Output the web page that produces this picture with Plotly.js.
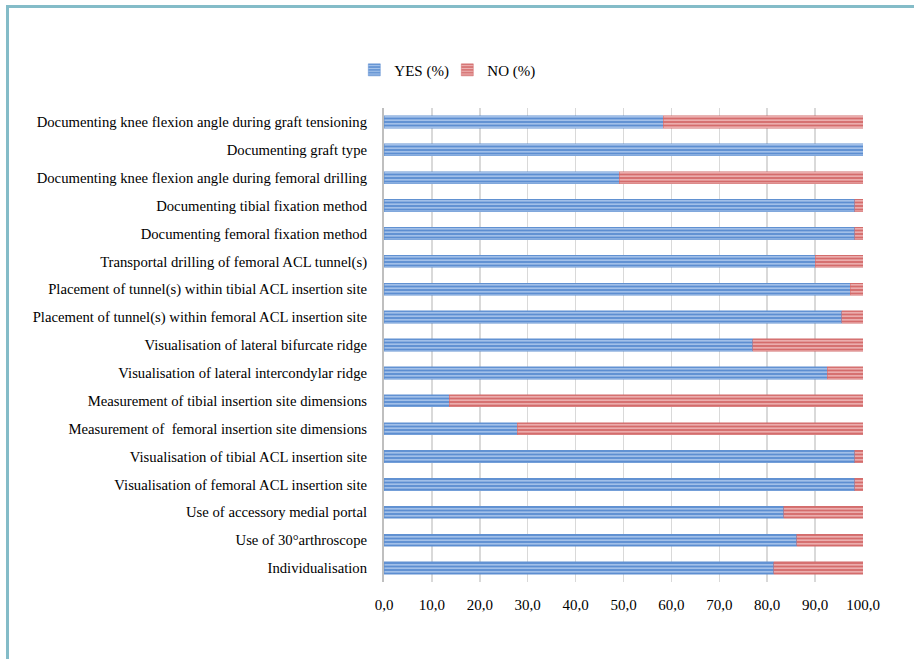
<!DOCTYPE html>
<html><head><meta charset="utf-8">
<script src="https://cdn.plot.ly/plotly-3.0.1.min.js"></script>
<style>
html,body{margin:0;padding:0;background:#fff;}
#chart{width:914px;height:659px;}
#frame{position:absolute;left:6px;top:5px;width:910px;height:660px;border-left:3px solid #84bcc8;border-top:3px solid #84bcc8;pointer-events:none;}
</style></head>
<body>
<div id="chart"></div>
<div id="frame"></div>
<script>
const categories = [
  "Documenting knee flexion angle during graft tensioning",
  "Documenting graft type",
  "Documenting knee flexion angle during femoral drilling",
  "Documenting tibial fixation method",
  "Documenting femoral fixation method",
  "Transportal drilling of femoral ACL tunnel(s)",
  "Placement of tunnel(s) within tibial ACL insertion site",
  "Placement of tunnel(s) within femoral ACL insertion site",
  "Visualisation of lateral bifurcate ridge",
  "Visualisation of lateral intercondylar ridge",
  "Measurement of tibial insertion site dimensions",
  "Measurement of  femoral insertion site dimensions",
  "Visualisation of tibial ACL insertion site",
  "Visualisation of femoral ACL insertion site",
  "Use of accessory medial portal",
  "Use of 30°arthroscope",
  "Individualisation"
];
const yesPct = [58.3, 100, 49.1, 98.3, 98.3, 90.0, 97.3, 95.6, 77.0, 92.5, 13.6, 27.8, 98.3, 98.3, 83.5, 86.2, 81.4];
const noPct  = [41.7, 0, 50.9, 1.7, 1.7, 10.0, 2.7, 4.4, 23.0, 7.5, 86.4, 72.2, 1.7, 1.7, 16.5, 13.8, 18.6];
const xTickVals = [0, 10, 20, 30, 40, 50, 60, 70, 80, 90, 100];
const xTickText = ["0,0", "10,0", "20,0", "30,0", "40,0", "50,0", "60,0", "70,0", "80,0", "90,0", "100,0"];

const serif = "Liberation Serif, DejaVu Serif, serif";
const traces = [
  {type:'bar', orientation:'h', name:'YES (%)', y:categories, x:yesPct,
   marker:{color:'#6e9bd6', line:{color:'#5f8fd0', width:0.5},
     pattern:{shape:'-', fgcolor:'#aac6ec', bgcolor:'#5d8ed1', size:3.5, solidity:0.45}},
   hoverinfo:'x+y'},
  {type:'bar', orientation:'h', name:'NO (%)', y:categories, x:noPct,
   marker:{color:'#d97a7a', line:{color:'#d06a6a', width:0.5},
     pattern:{shape:'-', fgcolor:'#eeb5b5', bgcolor:'#d46c6c', size:3.5, solidity:0.45}},
   hoverinfo:'x+y'}
];
const layout = {
  width:914, height:659,
  paper_bgcolor:'#ffffff', plot_bgcolor:'#ffffff',
  margin:{l:384, r:51, t:108, b:77},
  barmode:'stack', bargap:0.56,
  font:{family:serif, size:14.7, color:'#000'},
  showlegend:true,
  legend:{orientation:'h', x:-0.062, xanchor:'left', y:1.08, yanchor:'middle',
          font:{family:serif, size:15, color:'#000'}, itemwidth:30,
          entrywidth:48, entrywidthmode:'pixels', traceorder:'normal'},
  xaxis:{range:[0,100], tickvals:xTickVals, ticktext:xTickText, showgrid:true,
         gridcolor:'#d9d9d9', gridwidth:1.5, zeroline:false, showline:false,
         ticks:'', ticklabelstandoff:12, tickfont:{family:serif, size:15, color:'#000'}, fixedrange:true},
  yaxis:{type:'category', autorange:'reversed', showgrid:false, zeroline:false,
         showline:true, linecolor:'#bfbfbf', linewidth:2, ticks:'',
         ticklabelstandoff:12, tickfont:{family:serif, size:14.7, color:'#000'}, fixedrange:true}
};
Plotly.newPlot('chart', traces, layout, {displayModeBar:false, staticPlot:true});
</script>
</body></html>
